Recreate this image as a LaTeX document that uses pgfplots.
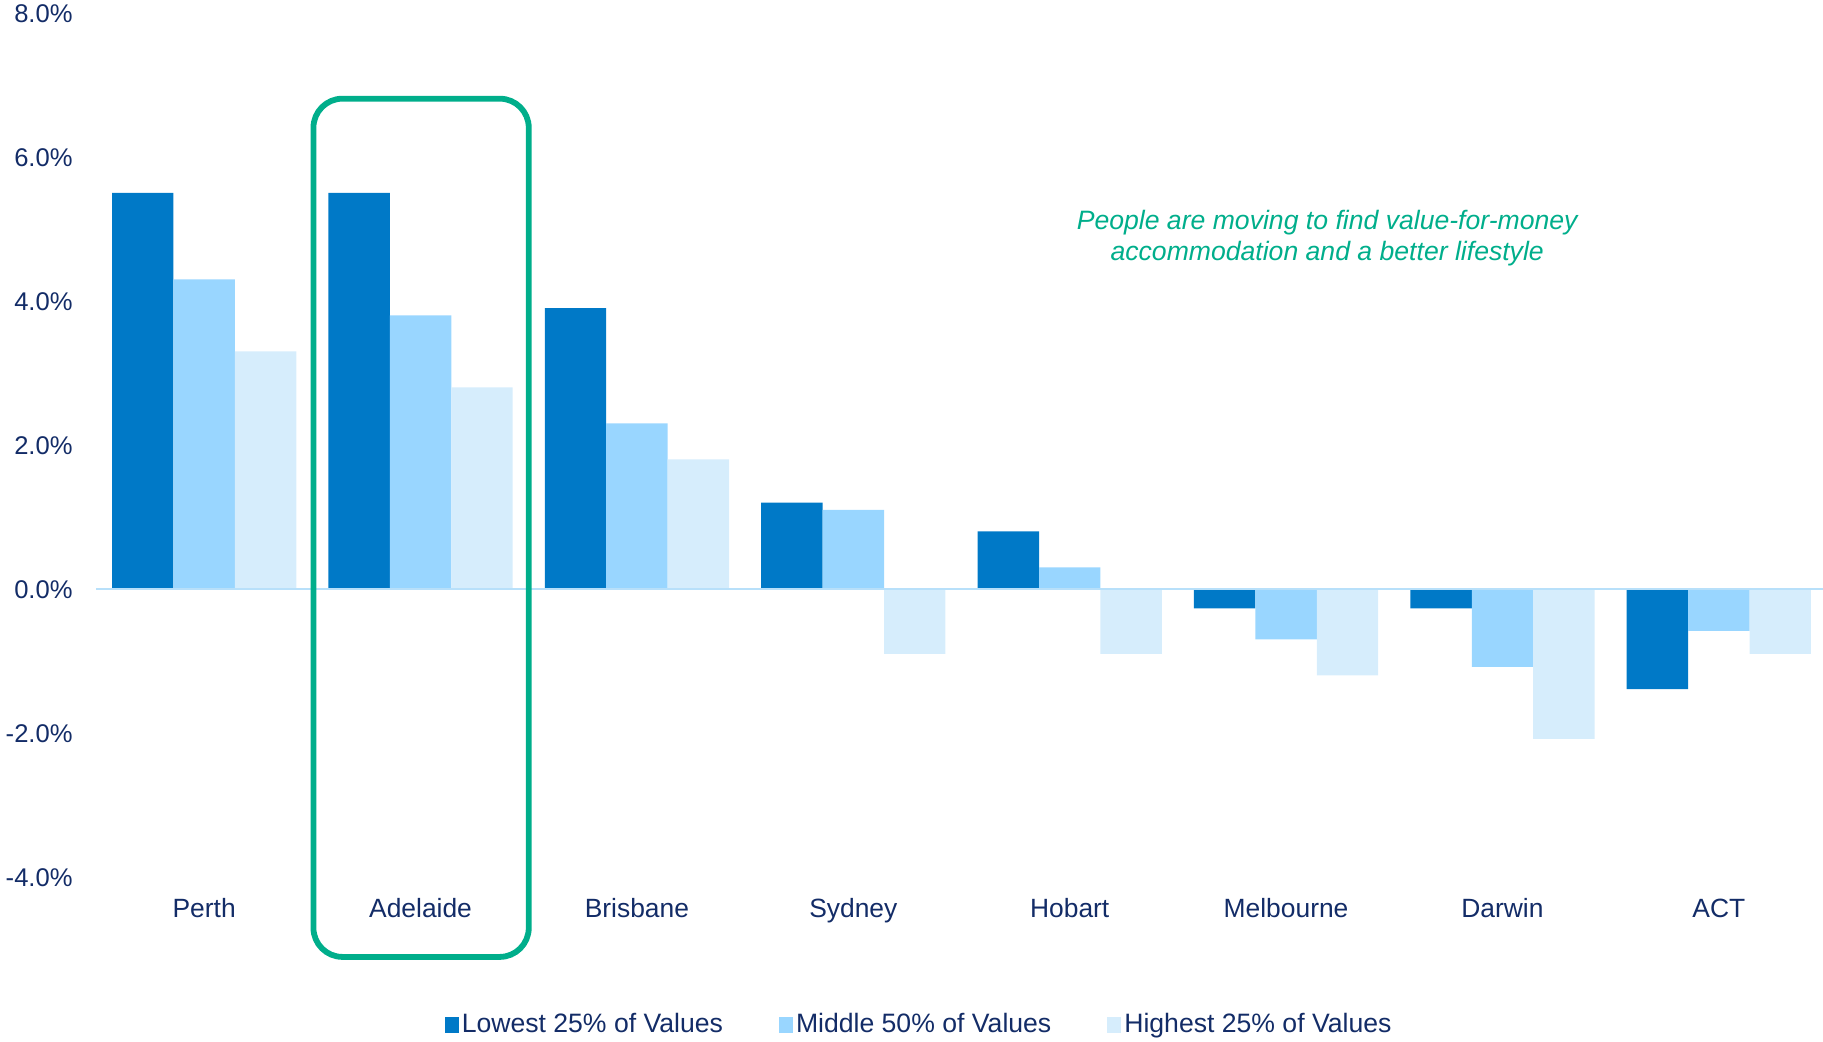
\documentclass[border=0pt]{standalone}
\usepackage{fontspec}
\setmainfont{Liberation Sans}
\usepackage{pgfplots}
\pgfplotsset{compat=1.18}
\definecolor{cDark}{HTML}{0079C7}
\definecolor{cMid}{HTML}{99D6FF}
\definecolor{cLight}{HTML}{D6EDFC}
\definecolor{cGreen}{HTML}{00AE8B}
\definecolor{cText}{HTML}{132C67}
\definecolor{cZero}{HTML}{B8E0FA}
\begin{document}
\begin{tikzpicture}
\begin{axis}[
  scale only axis, width=865.5bp, height=432bp,
  xmin=-0.5, xmax=7.5, ymin=-4, ymax=8,
  ybar=0pt, bar width=30.7bp,
  axis line style={draw=none}, major tick length=0pt,
  xtick={0,1,2,3,4,5,6,7},
  xticklabels={Perth,Adelaide,Brisbane,Sydney,Hobart,Melbourne,Darwin,ACT},
  ytick={-4,-2,0,2,4,6,8},
  yticklabels={-4.0\%,-2.0\%,0.0\%,2.0\%,4.0\%,6.0\%,8.0\%},
  xticklabel style={font=\fontsize{13.2bp}{16bp}\selectfont, text=cText, anchor=base, inner sep=0pt, yshift=-20.5bp},
  yticklabel style={font=\fontsize{12.8bp}{15bp}\selectfont, text=cText, anchor=east, inner sep=0pt, xshift=-11.5bp, yshift=-0.5bp},
  clip=false,
  legend columns=3,
  legend style={draw=none, fill=none, at={(axis description cs:0.4758,-0.171)}, anchor=center,
    font=\fontsize{13.3bp}{16bp}\selectfont, text=cText,
    nodes={inner sep=1.5bp},
    /tikz/every even column/.append style={column sep=26.5bp}},
  legend image code/.code={\fill[#1] (0bp,-4bp) rectangle (7bp,4bp);},
]
\addplot[fill=cDark, draw=none] coordinates {(0,5.5)(1,5.5)(2,3.9)(3,1.2)(4,0.8)(5,-0.27)(6,-0.27)(7,-1.39)};
\addplot[fill=cMid, draw=none] coordinates {(0,4.3)(1,3.8)(2,2.3)(3,1.1)(4,0.3)(5,-0.7)(6,-1.08)(7,-0.58)};
\addplot[fill=cLight, draw=none] coordinates {(0,3.3)(1,2.8)(2,1.8)(3,-0.9)(4,-0.9)(5,-1.2)(6,-2.08)(7,-0.9)};
\legend{Lowest 25\% of Values, Middle 50\% of Values, Highest 25\% of Values}
\draw[cZero, line width=1bp] (axis cs:-0.5,0) -- (axis cs:7.5,0);
\draw[cGreen, line width=2.9bp, rounded corners=14.5bp] (axis cs:0.505,6.81) rectangle (axis cs:1.5,-5.11);
\node[font=\itshape\fontsize{13.3bp}{15.7bp}\selectfont, text=cGreen, align=center] at (axis cs:5.19,4.875) {People are moving to find value-for-money\\accommodation and a better lifestyle};
\coordinate (bbSW) at (rel axis cs:0,0);
\coordinate (bbNE) at (rel axis cs:1,1);
\end{axis}
\pgfresetboundingbox
\path[use as bounding box] (bbSW) ++(-48bp,-82.5bp) rectangle ([shift={(-2bp,6.5bp)}]bbNE);
\end{tikzpicture}
\end{document}
